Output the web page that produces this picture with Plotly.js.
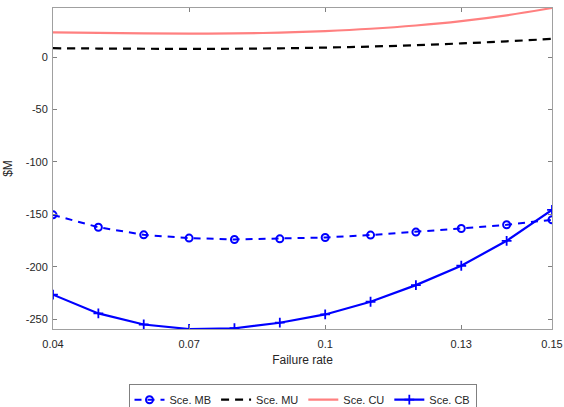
<!DOCTYPE html>
<html>
<head>
<meta charset="utf-8">
<script src="https://cdn.plot.ly/plotly-3.0.1.min.js"></script>
<style>html,body{margin:0;padding:0;background:#fff;}#chart{width:564px;height:407px;}</style>
</head>
<body>
<div id="chart"></div>
<script>
const failureRate = [0.04, 0.05, 0.06, 0.07, 0.08, 0.09, 0.10, 0.11, 0.12, 0.13, 0.14, 0.15];
const sceMB = [-150.5, -162.3, -169.6, -172.7, -174.0, -173.4, -172.1, -169.8, -167.0, -163.5, -160.0, -155.2];
const sceMU = [8.6, 8.3, 8.1, 8.0, 8.1, 8.5, 9.2, 10.2, 11.5, 13.2, 15.2, 17.5];
const sceCU = [23.8, 23.2, 22.8, 22.6, 22.7, 23.5, 25.0, 27.2, 30.3, 34.5, 40.0, 47.0];
const sceCB = [-226.7, -244.6, -255.2, -259.5, -258.8, -253.5, -245.6, -233.5, -217.6, -199.1, -175.3, -145.7];
const seriesNames = ["Sce. MB", "Sce. MU", "Sce. CU", "Sce. CB"];
const xTickVals = [0.04, 0.07, 0.1, 0.13, 0.15];
const xTickText = ["0.04", "0.07", "0.1", "0.13", "0.15"];
const yTickVals = [-250, -200, -150, -100, -50, 0];
const yTickText = ["-250", "-200", "-150", "-100", "-50", "0"];

const allY = sceMB.concat(sceMU, sceCU, sceCB);
const yMin = Math.min(...allY), yMax = Math.max(...allY);

const traces = [
  {x: failureRate, y: sceMB, name: seriesNames[0], type: 'scatter', mode: 'lines+markers',
   line: {color: '#0000ff', width: 2, dash: '7px,6px'},
   marker: {symbol: 'circle-open', size: 7, color: '#0000ff', line: {width: 2, color: '#0000ff'}}},
  {x: failureRate, y: sceMU, name: seriesNames[1], type: 'scatter', mode: 'lines',
   line: {color: '#000000', width: 2.2, dash: '8px,6px', shape: 'spline'}},
  {x: failureRate, y: sceCU, name: seriesNames[2], type: 'scatter', mode: 'lines',
   line: {color: '#ff8080', width: 2.2, shape: 'spline'}},
  {x: failureRate, y: sceCB, name: seriesNames[3], type: 'scatter', mode: 'lines+markers',
   line: {color: '#0000ff', width: 2.2},
   marker: {symbol: 'cross-thin-open', size: 7, color: '#0000ff', line: {width: 1.8, color: '#0000ff'}}}
];

const axisCommon = {
  showgrid: false, zeroline: false, showline: true, mirror: 'ticks',
  linecolor: '#a0a0a0', linewidth: 1, ticks: 'inside', ticklen: 4, tickcolor: '#808080', tickwidth: 1,
  tickfont: {family: 'Liberation Sans, Arial, sans-serif', size: 11, color: '#262626'}
};

const layout = {
  width: 564, height: 407,
  margin: {l: 53, r: 12, t: 8, b: 78, autoexpand: false},
  paper_bgcolor: '#ffffff', plot_bgcolor: '#ffffff',
  font: {family: 'Liberation Sans, Arial, sans-serif', color: '#262626'},
  showlegend: true,
  xaxis: Object.assign({}, axisCommon, {
    range: [0.04, 0.15], tickvals: xTickVals, ticktext: xTickText, automargin: false,
    ticklabelstandoff: 5,
    title: {text: 'Failure rate', font: {size: 12, color: '#262626'}, standoff: 6}
  }),
  yaxis: Object.assign({}, axisCommon, {
    range: [yMin, yMax], tickvals: yTickVals, ticktext: yTickText, automargin: false,
    ticklabelstandoff: 2,
    title: {text: '$M', font: {size: 12, color: '#262626'}, standoff: 10}
  }),
  legend: {
    orientation: 'h', x: 0.5, xanchor: 'center', xref: 'paper',
    yref: 'container', y: 0.056, yanchor: 'top',
    bordercolor: '#808080', borderwidth: 1, bgcolor: '#ffffff',
    font: {size: 11, color: '#262626'}, tracegroupgap: 0, itemwidth: 30
  }
};

Plotly.newPlot('chart', traces, layout, {displayModeBar: false, staticPlot: true});
</script>
</body>
</html>
